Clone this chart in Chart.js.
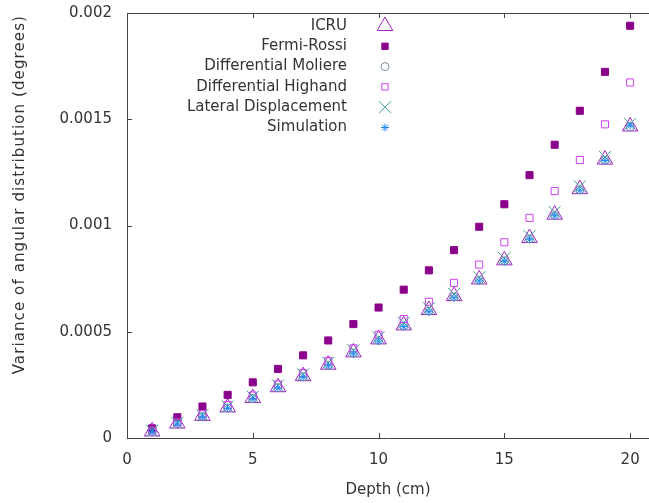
<!DOCTYPE html>
<html>
<head>
<meta charset="utf-8">
<script src="https://cdn.jsdelivr.net/npm/chart.js@4.4.1/dist/chart.umd.min.js"></script>
<style>
  html, body { margin: 0; padding: 0; background: #fff; overflow: hidden; }
  #wrap { width: 649px; height: 503px; }
</style>
</head>
<body>
<div id="wrap"><canvas id="chart" width="649" height="503"></canvas></div>
<script>
// depth in cm
const depth = [1, 2, 3, 4, 5, 6, 7, 8, 9, 10, 11, 12, 13, 14, 15, 16, 17, 18, 19, 20];

const icru = [0.000031, 0.000068, 0.000104, 0.000144, 0.000188, 0.000239, 0.000291, 0.000345, 0.000403, 0.000464,
  0.000530, 0.000602, 0.000668, 0.000746, 0.000836, 0.000941, 0.001051, 0.001171, 0.001310, 0.001466];
const fermiRossi = [0.000045, 0.0000975, 0.000148, 0.000203, 0.000262, 0.000325, 0.000389, 0.000459, 0.000536, 0.000614,
  0.000698, 0.000789, 0.000884, 0.000994, 0.001100, 0.001237, 0.001380, 0.001540, 0.001723, 0.001940];
const moliere = [0.000030, 0.000067, 0.000102, 0.000142, 0.000186, 0.000237, 0.000288, 0.000342, 0.000399, 0.000459,
  0.000527, 0.000597, 0.000664, 0.000742, 0.000833, 0.000937, 0.001047, 0.001168, 0.001307, 0.001464];
const highland = [0.000036, 0.000074, 0.000112, 0.000155, 0.000200, 0.000252, 0.000305, 0.000362, 0.000422, 0.000486,
  0.000560, 0.000641, 0.000730, 0.000816, 0.000921, 0.001036, 0.001162, 0.001308, 0.001476, 0.001673];
const lateral = [0.000034, 0.000072, 0.000108, 0.000148, 0.000194, 0.000247, 0.000299, 0.000354, 0.000413, 0.000474,
  0.000542, 0.000611, 0.000678, 0.000756, 0.000846, 0.000950, 0.001063, 0.001184, 0.001322, 0.001478];
const simulation = [0.000029, 0.000066, 0.000100, 0.000140, 0.000184, 0.000235, 0.000286, 0.000339, 0.000396, 0.000456,
  0.000524, 0.000594, 0.000660, 0.000739, 0.000831, 0.000935, 0.001046, 0.001166, 0.001306, 0.001470];

const xTicks = [0, 5, 10, 15, 20];
const yTicks = [0, 0.0005, 0.001, 0.0015, 0.002];
const yTickLabels = ["0", "0.0005", "0.001", "0.0015", "0.002"];
const yTitle = "Variance of angular distribution (degrees)";

const FONT = "'DejaVu Sans', sans-serif";
const TEXT = "#333";
const AXIS = "#444";

const toPoints = (ys) => depth.map((x, i) => ({ x: x, y: ys[i] }));

const series = [
  { label: "ICRU", data: icru, style: "triangle", r: 9, color: "#a020c0", fill: "rgba(0,0,0,0)", order: 5 },
  { label: "Fermi-Rossi", data: fermiRossi, style: "rect", r: 5, color: "#8b008b", fill: "#8b008b", order: 4 },
  { label: "Differential Moliere", data: moliere, style: "circle", r: 4, color: "#7a8ea0", fill: "rgba(0,0,0,0)", order: 3 },
  { label: "Differential Highand", data: highland, style: "rect", r: 5, color: "#d040f0", fill: "rgba(0,0,0,0)", order: 2 },
  { label: "Lateral Displacement", data: lateral, style: "crossRot", r: 8.5, color: "#3a9a9a", fill: "rgba(0,0,0,0)", order: 1 },
  { label: "Simulation", data: simulation, style: "star", r: 4, color: "#1e88f0", fill: "#1e88f0", order: 0 },
];

// gnuplot style frame: top border plus inward ticks, and the y title
const frameTicks = {
  id: "frameTicks",
  afterDraw(chart) {
    const ctx = chart.ctx;
    const a = chart.chartArea;
    const xs = chart.scales.x, ys = chart.scales.y;
    ctx.save();
    ctx.strokeStyle = AXIS;
    ctx.lineWidth = 1;
    ctx.beginPath();
    ctx.moveTo(a.left, a.top + 0.5);
    ctx.lineTo(a.right, a.top + 0.5);
    xTicks.forEach((v) => {
      const px = Math.round(xs.getPixelForValue(v)) + 0.5;
      ctx.moveTo(px, a.bottom);
      ctx.lineTo(px, a.bottom - 5);
      ctx.moveTo(px, a.top);
      ctx.lineTo(px, a.top + 5);
    });
    yTicks.forEach((v) => {
      const py = Math.round(ys.getPixelForValue(v)) + 0.5;
      ctx.moveTo(a.left, py);
      ctx.lineTo(a.left + 5, py);
    });
    ctx.stroke();

    // rotated axis title, a little spaced out like the original
    ctx.translate(20, 15);
    ctx.rotate(-Math.PI / 2);
    ctx.font = "15px " + FONT;
    ctx.letterSpacing = "1.1px";
    ctx.fillStyle = TEXT;
    ctx.textAlign = "right";
    ctx.textBaseline = "middle";
    ctx.fillText(yTitle, 0, 0);
    ctx.restore();
  },
};

// legend drawn like gnuplot: right aligned text, marker to the right
const keyBox = {
  id: "keyBox",
  afterDraw(chart) {
    const ctx = chart.ctx;
    ctx.save();
    ctx.font = "15px " + FONT;
    ctx.textAlign = "right";
    ctx.textBaseline = "middle";
    series.forEach((s, i) => {
      const y = 26 + i * 20.3;
      ctx.fillStyle = TEXT;
      ctx.fillText(s.label, 347, y);
      ctx.strokeStyle = s.color;
      ctx.fillStyle = s.fill;
      ctx.lineWidth = 1;
      Chart.helpers.drawPoint(ctx, { pointStyle: s.style, radius: s.style === "rect" ? 4.5 : s.r, rotation: 0, borderWidth: 1 }, 385, y);
    });
    ctx.restore();
  },
};

new Chart(document.getElementById("chart"), {
  type: "scatter",
  data: {
    datasets: series.map((s) => ({
      label: s.label,
      data: toPoints(s.data),
      pointStyle: s.style,
      pointRadius: s.r,
      borderColor: s.color,
      backgroundColor: s.fill,
      borderWidth: 1,
      order: s.order,
      clip: false,
    })),
  },
  options: {
    responsive: false,
    animation: false,
    events: [],
    layout: { autoPadding: false, padding: { top: 13, right: 0, left: 0, bottom: 0 } },
    plugins: { legend: { display: false }, tooltip: { enabled: false } },
    scales: {
      x: {
        type: "linear",
        min: 0,
        max: 20.75,
        afterBuildTicks: (scale) => { scale.ticks = xTicks.map((v) => ({ value: v })); },
        afterFit: (scale) => { scale.height = 65; scale.paddingLeft = 0; scale.paddingRight = 0; },
        ticks: { padding: 13, color: TEXT, font: { family: FONT, size: 15 }, maxRotation: 0 },
        grid: { drawOnChartArea: false, drawTicks: false },
        border: { display: true, color: AXIS, width: 1 },
        title: { display: true, text: "Depth (cm)", color: TEXT, font: { family: FONT, size: 15 }, padding: { top: 0, bottom: 4 } },
      },
      y: {
        type: "linear",
        min: 0,
        max: 0.002,
        afterBuildTicks: (scale) => { scale.ticks = yTicks.map((v) => ({ value: v })); },
        afterFit: (scale) => { scale.width = 127; scale.paddingTop = 0; scale.paddingBottom = 0; },
        ticks: {
          padding: 15,
          color: TEXT,
          font: { family: FONT, size: 15 },
          callback: (value, index) => yTickLabels[index],
        },
        grid: { drawOnChartArea: false, drawTicks: false },
        border: { display: true, color: AXIS, width: 1 },
        title: { display: false },
      },
    },
  },
  plugins: [frameTicks, keyBox],
});
</script>
</body>
</html>
